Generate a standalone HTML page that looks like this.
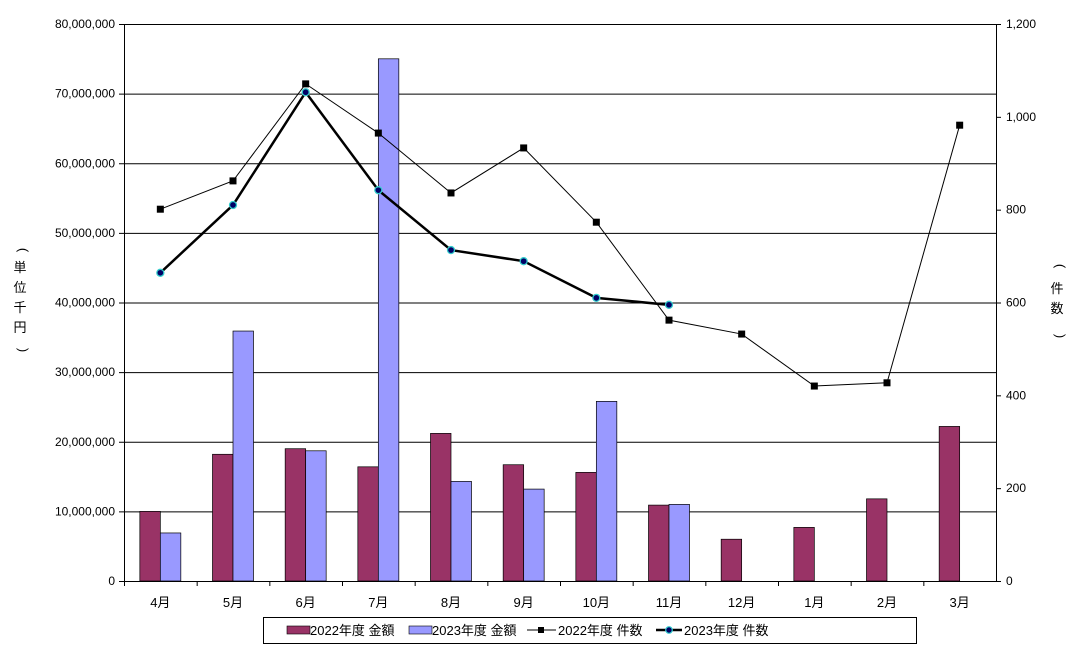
<!DOCTYPE html>
<html><head><meta charset="utf-8">
<style>
html,body{margin:0;padding:0;background:#fff;}
svg{display:block;font-family:"Liberation Sans","Noto Sans CJK JP",sans-serif;}
</style></head>
<body>
<svg id="chart" width="1085" height="656" viewBox="0 0 1085 656" xmlns="http://www.w3.org/2000/svg">
<g id="grid"></g>
<g id="bars"></g>
<g id="lines"></g>
<g id="axes"></g>
<g font-size="13" text-anchor="middle">
<text x="19" y="250" transform="rotate(90 19 250)">(</text>
<text x="20" y="272">単</text><text x="20" y="292">位</text><text x="20" y="312">千</text><text x="20" y="332">円</text>
<text x="19" y="350" transform="rotate(90 19 350)">)</text>
</g>
<g font-size="13" text-anchor="middle">
<text x="1056" y="266" transform="rotate(90 1056 266)">(</text>
<text x="1057" y="293">件</text><text x="1057" y="313">数</text>
<text x="1056" y="336" transform="rotate(90 1056 336)">)</text>
</g>
<g font-size="13">
<rect x="263.5" y="617.5" width="653" height="26" fill="#fff" stroke="#000"/>
<g><rect x="287" y="626" width="23" height="8" fill="#993366" stroke="#000" stroke-width="0.6"/><text x="310" y="635">2022年度 金額</text></g>
<g><rect x="409" y="626" width="23" height="8" fill="#9999FF" stroke="#000" stroke-width="0.6"/><text x="432" y="635">2023年度 金額</text></g>
<g><line x1="527" y1="630" x2="556" y2="630" stroke="#000"/><rect x="538" y="627" width="6" height="6" fill="#000"/><text x="558" y="635">2022年度 件数</text></g>
<g><line x1="656" y1="630" x2="682" y2="630" stroke="#000" stroke-width="2.5"/><circle cx="669" cy="630" r="3.3" fill="#006" stroke="#33CCCC" stroke-width="1.2"/><text x="684" y="635">2023年度 件数</text></g>
</g>
</svg>
<script>
const categories=["4月","5月","6月","7月","8月","9月","10月","11月","12月","1月","2月","3月"];
const amount2022=[10.0,18.2,19.0,16.4,21.2,16.7,15.6,10.9,6.0,7.7,11.8,22.2];
const amount2023=[6.9,35.9,18.7,75.0,14.3,13.2,25.8,11.0];
const count2022=[801,862,1071,965,836,933,773,562,532,420,427,982];
const count2023=[664,810,1053,842,713,689,610,595];
const leftTicks=[0,10,20,30,40,50,60,70,80];
const leftTickLabels=["0","10,000,000","20,000,000","30,000,000","40,000,000","50,000,000","60,000,000","70,000,000","80,000,000"];
const rightTicks=[0,200,400,600,800,1000,1200];
const rightTickLabels=["0","200","400","600","800","1,000","1,200"];

const NS="http://www.w3.org/2000/svg";
const L=124,R=996,T=24,B=581;
const cw=(R-L)/categories.length;
const yL=v=>B-(v/80)*(B-T);
const yR=v=>B-(v/1200)*(B-T);
const xC=i=>L+cw*(i+0.5);
function mk(parent,tag,attrs){const e=document.createElementNS(NS,tag);for(const k in attrs)e.setAttribute(k,attrs[k]);document.getElementById(parent).appendChild(e);return e;}

leftTicks.forEach((t,i)=>{
  if(t>0){const g=mk('grid','line',{x1:L,x2:R,y1:yL(t)+0.5,y2:yL(t)+0.5,stroke:'#000','stroke-width':1});
  
  }
  const tk=mk('axes','line',{x1:L-5,x2:L,y1:yL(t)+0.5,y2:yL(t)+0.5,stroke:'#000'});
  
  
  const tx=mk('axes','text',{x:L-9,y:yL(t)+4,'font-size':12,'text-anchor':'end'});
  tx.textContent=leftTickLabels[i];
  
  
});
rightTicks.forEach((t,i)=>{
  const tk=mk('axes','line',{x1:R,x2:R+5,y1:yR(t)+0.5,y2:yR(t)+0.5,stroke:'#000'});
  
  
  const tx=mk('axes','text',{x:R+10,y:yR(t)+4,'font-size':12});
  tx.textContent=rightTickLabels[i];
  
  
});
const bw=20.5;
amount2022.forEach((v,i)=>{
  const r=mk('bars','rect',{x:xC(i)-bw,y:yL(v),width:bw,height:B-yL(v),fill:'#993366',stroke:'#000','stroke-width':0.7});
  
  
});
amount2023.forEach((v,i)=>{
  const r=mk('bars','rect',{x:xC(i),y:yL(v),width:bw,height:B-yL(v),fill:'#9999FF',stroke:'#000','stroke-width':0.7});
  
  
});
const l1=mk('lines','polyline',{points:count2022.map((v,i)=>xC(i)+','+yR(v)).join(' '),fill:'none',stroke:'#000','stroke-width':1});


count2022.forEach((v,i)=>{
  const p=mk('lines','rect',{x:xC(i)-3.5,y:yR(v)-3.5,width:7,height:7,fill:'#000'});
  
  
});
const l2=mk('lines','polyline',{points:count2023.map((v,i)=>xC(i)+','+yR(v)).join(' '),fill:'none',stroke:'#000','stroke-width':2.5});


count2023.forEach((v,i)=>{
  const p=mk('lines','circle',{cx:xC(i),cy:yR(v),r:3.5,fill:'#006','stroke':'#33CCCC','stroke-width':1.3});
  
  
});
const ax=mk('axes','path',{d:`M${L+0.5},${T} V${B+0.5} H${R+0.5} V${T}`,fill:'none',stroke:'#000'});


categories.forEach((c,i)=>{
  const tk=mk('axes','line',{x1:L+cw*i+0.5,x2:L+cw*i+0.5,y1:B,y2:B+5,stroke:'#000'});
  
  
  const tx=mk('axes','text',{x:xC(i),y:B+26,'font-size':13,'text-anchor':'middle'});
  tx.textContent=c;
  
  
});
</script>
</body></html>
